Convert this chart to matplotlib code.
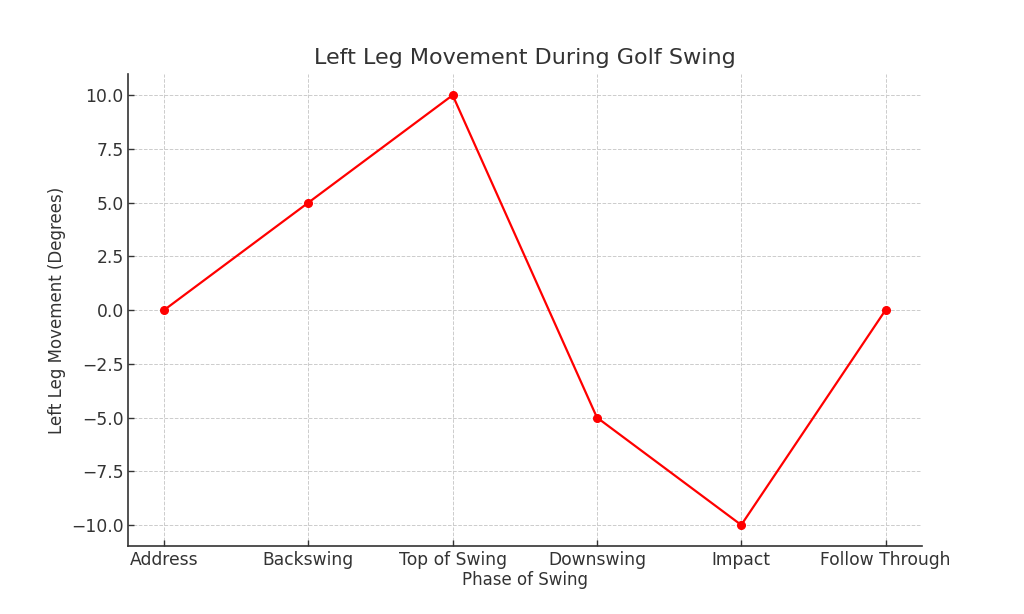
import matplotlib
matplotlib.use("Agg")
import matplotlib.pyplot as plt

phases = ["Address", "Backswing", "Top of Swing", "Downswing", "Impact", "Follow Through"]
movement = [0, 5, 10, -5, -10, 0]

text_color = "#333333"
plt.rcParams.update({
    "font.family": "DejaVu Sans",
    "text.color": text_color,
    "axes.labelcolor": text_color,
    "xtick.color": text_color,
    "ytick.color": text_color,
})

fig, ax = plt.subplots(figsize=(10.24, 6.14), dpi=100)
ax.plot(phases, movement, color="red", marker="o", linewidth=1.6, markersize=5.5)
ax.set_title("Left Leg Movement During Golf Swing", fontsize=16, pad=7)
ax.set_xlabel("Phase of Swing", fontsize=12, labelpad=2)
ax.set_ylabel("Left Leg Movement (Degrees)", fontsize=12)
ax.tick_params(labelsize=12.3, direction="in", length=4, width=1, pad=3)
ax.grid(True, linestyle="--", color="#cccccc", linewidth=0.7)
ax.spines["top"].set_visible(False)
ax.spines["right"].set_visible(False)
for s in ("left", "bottom"):
    ax.spines[s].set_color(text_color)
    ax.spines[s].set_linewidth(1.2)
fig.savefig("out.png", dpi=100)
